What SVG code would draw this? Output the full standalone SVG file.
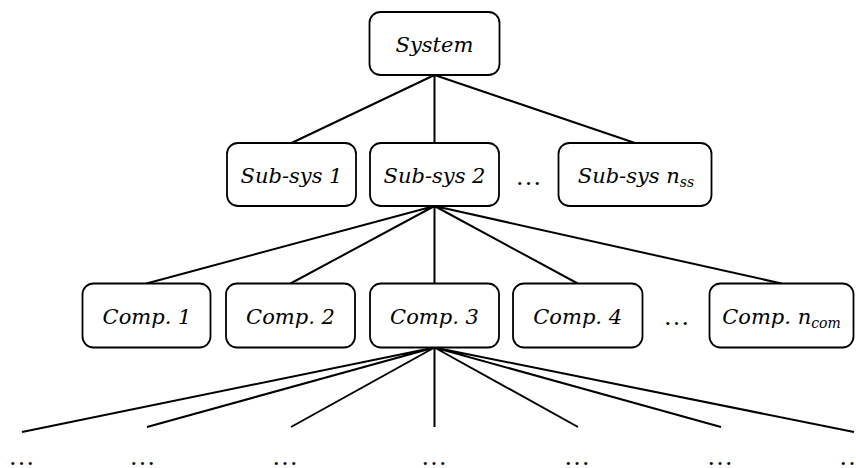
<svg xmlns="http://www.w3.org/2000/svg" width="856" height="468" viewBox="0 0 856 468">
<style>
.box{fill:#fff;stroke:#000;stroke-width:1.8}
.lbl{font-family:"DejaVu Serif","Liberation Serif",serif;font-style:italic;font-size:21px;fill:#000;text-anchor:middle}
.sub{font-size:14px}
.dots{font-family:"Liberation Serif","DejaVu Serif",serif;font-size:26px;fill:#000;text-anchor:middle}
.edge{stroke:#000;stroke-width:2;fill:none}
</style>
<rect width="856" height="468" fill="#fff"/>
<g id="connectors">
<path class="edge" d="M434.5 75 L291.5 143 M434.5 75 L434.5 143 M434.5 75 L635 143"/>
<path class="edge" d="M434.5 206 L146.5 283.5 M434.5 206 L290.5 283.5 M434.5 206 L434.5 283.5 M434.5 206 L577.7 283.5 M434.5 206 L781.5 283.5"/>
<path class="edge" d="M434.5 347.5 L22 432 M434.5 347.5 L147 427 M434.5 347.5 L291 427 M434.5 347.5 L434.5 427 M434.5 347.5 L578 427 M434.5 347.5 L721 427 M434.5 347.5 L854 432"/>
</g>
<g id="system">
<rect class="box" x="369.5" y="12" width="130" height="63" rx="11"/>
<text class="lbl" x="434.5" y="52">System</text>
</g>
<g id="subsys1">
<rect class="box" x="227" y="143" width="129" height="63" rx="11"/>
<text class="lbl" x="291.5" y="182.5">Sub-sys 1</text>
</g>
<g id="subsys2">
<rect class="box" x="370" y="143" width="129" height="63" rx="11"/>
<text class="lbl" x="434.5" y="182.5">Sub-sys 2</text>
</g>
<g id="subsys-ellipsis">
<text class="dots" x="528.5" y="184.5">…</text>
</g>
<g id="subsysn">
<rect class="box" x="558.5" y="143" width="153" height="63" rx="11"/>
<text class="lbl" x="636" y="182.5">Sub-sys n<tspan class="sub" dy="4">ss</tspan></text>
</g>
<g id="comp1">
<rect class="box" x="82.5" y="283.5" width="128" height="64" rx="11"/>
<text class="lbl" x="147" y="323.5">Comp. 1</text>
</g>
<g id="comp2">
<rect class="box" x="226" y="283.5" width="129" height="64" rx="11"/>
<text class="lbl" x="290.5" y="323.5">Comp. 2</text>
</g>
<g id="comp3">
<rect class="box" x="370" y="283.5" width="129" height="64" rx="11"/>
<text class="lbl" x="434.5" y="323.5">Comp. 3</text>
</g>
<g id="comp4">
<rect class="box" x="513" y="283.5" width="129.5" height="64" rx="11"/>
<text class="lbl" x="577.7" y="323.5">Comp. 4</text>
</g>
<g id="comp-ellipsis">
<text class="dots" x="676.5" y="325">…</text>
</g>
<g id="compn">
<rect class="box" x="709.5" y="283.5" width="144" height="64" rx="11"/>
<text class="lbl" x="781.5" y="323.5">Comp. n<tspan class="sub" dy="4">com</tspan></text>
</g>
<g id="leaves">
<text class="dots" x="21.5" y="465">…</text>
<text class="dots" x="142.5" y="465">…</text>
<text class="dots" x="285" y="465">…</text>
<text class="dots" x="434" y="465">…</text>
<text class="dots" x="577" y="465">…</text>
<text class="dots" x="720" y="465">…</text>
<text class="dots" x="852" y="465">…</text>
</g>
</svg>
